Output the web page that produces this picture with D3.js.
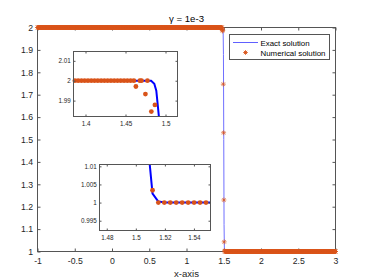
<!DOCTYPE html>
<html>
<head>
<meta charset="utf-8">
<script src="https://d3js.org/d3.v7.min.js"></script>
<style>
  body { margin: 0; background: #fff; }
  svg { font-family: "Liberation Sans", Arial, sans-serif; }
</style>
</head>
<body>
<div id="chart"></div>
<script>
// ---- data ----
var xTicks = [-1, -0.5, 0, 0.5, 1, 1.5, 2, 2.5, 3];
var yTicks = [1, 1.1, 1.2, 1.3, 1.4, 1.5, 1.6, 1.7, 1.8, 1.9, 2];

// exact solution (blue line)
var exactX = [-1, 1.482, 1.486, 1.4885, 1.492, 1.496, 1.5, 1.504, 1.5085, 1.5115, 1.5155, 1.52, 3];
var exactU = [2, 2, 1.9985, 1.995, 1.981, 1.88, 1.5, 1.12, 1.015, 1.0025, 1.0003, 1, 1];

// numerical solution: grid spacing, plateaus and the points across the shock
var gridDx = 0.0041;
var leftPlateau = { from: -1, to: 1.4605, u: 2 };
var rightPlateau = { from: 1.5155, to: 3, u: 1 };
var shockX = [1.463, 1.468, 1.470, 1.4749, 1.4774, 1.4823, 1.4868, 1.494, 1.498, 1.502, 1.506, 1.5115];
var shockU = [1.9971, 2, 2, 1.9933, 2, 1.9845, 1.9878, 1.747, 1.53, 1.23, 1.043, 1.0034];

// insets
var inset1XTicks = [1.4, 1.45, 1.5];
var inset1YTicks = [1.99, 2, 2.01];
var inset2XTicks = [1.48, 1.5, 1.52, 1.54];
var inset2YTicks = [0.995, 1, 1.005, 1.01];

var orange = "#D95319";
var axisCol = "#262626";

// build point lists
var exact = exactX.map(function(x, i) { return [x, exactU[i]]; });
var numeric = [];
d3.range(leftPlateau.to, leftPlateau.from - 1e-9, -gridDx).forEach(function(x) { numeric.push([x, leftPlateau.u]); });
shockX.forEach(function(x, i) { numeric.push([x, shockU[i]]); });
d3.range(rightPlateau.from, rightPlateau.to + 1e-9, gridDx).forEach(function(x) { numeric.push([x, rightPlateau.u]); });
numeric.push([3, 1]);

var svg = d3.select("#chart").append("svg")
  .attr("width", 374).attr("height", 280);

var fmt = function(d) { return String(+d.toFixed(4)); };

function drawAxes(g, x, y, xt, yt, fs, tick, padX, padY) {
  var x0 = x.range()[0], x1 = x.range()[1], y0 = y.range()[0], y1 = y.range()[1];
  g.append("rect")
    .attr("x", x0).attr("y", y1).attr("width", x1 - x0).attr("height", y0 - y1)
    .attr("fill", "none").attr("stroke", "#555").attr("stroke-width", 1);

  var bottom = g.append("g").attr("transform", "translate(0," + y0 + ")")
    .call(d3.axisBottom(x).tickValues(xt).tickFormat(fmt).tickSizeInner(-tick).tickSizeOuter(0).tickPadding(padX));
  var top = g.append("g").attr("transform", "translate(0," + y1 + ")")
    .call(d3.axisTop(x).tickValues(xt).tickFormat("").tickSizeInner(-tick).tickSizeOuter(0));
  var left = g.append("g").attr("transform", "translate(" + x0 + ",0)")
    .call(d3.axisLeft(y).tickValues(yt).tickFormat(fmt).tickSizeInner(-tick).tickSizeOuter(0).tickPadding(padY));
  var right = g.append("g").attr("transform", "translate(" + x1 + ",0)")
    .call(d3.axisRight(y).tickValues(yt).tickFormat("").tickSizeInner(-tick).tickSizeOuter(0));

  [bottom, top, left, right].forEach(function(a) {
    a.select(".domain").remove();
    a.selectAll("line").attr("stroke", "#555");
    a.selectAll("text").attr("fill", axisCol).style("font-size", fs + "px").style("font-family", "Liberation Sans, Arial, sans-serif");
  });
}

function starPath(r) {
  var d = r * 0.7071;
  return "M" + (-r) + ",0L" + r + ",0M0," + (-r) + "L0," + r +
         "M" + (-d) + "," + (-d) + "L" + d + "," + d + "M" + (-d) + "," + d + "L" + d + "," + (-d);
}

// ---- main axes ----
var x = d3.scaleLinear().domain([-1, 3]).range([37.5, 335.5]);
var y = d3.scaleLinear().domain([1, 2]).range([251.5, 27.5]);

var main = svg.append("g");
drawAxes(main, x, y, xTicks, yTicks, 8.7, 3, 6.5, 4.5);

main.append("path")
  .datum(exact)
  .attr("fill", "none")
  .attr("stroke", "#7070ff")
  .attr("stroke-width", 1)
  .attr("d", d3.line().x(function(d) { return x(d[0]); }).y(function(d) { return y(d[1]); }));

main.append("g").selectAll("path")
  .data(numeric)
  .enter().append("path")
  .attr("transform", function(d) { return "translate(" + x(d[0]) + "," + y(d[1]) + ")"; })
  .attr("d", starPath(2.5))
  .attr("fill", "none")
  .attr("stroke", orange)
  .attr("stroke-opacity", 0.75)
  .attr("stroke-width", 0.9);

svg.append("text")
  .attr("x", 186.5).attr("y", 22)
  .attr("text-anchor", "middle")
  .style("font-size", "9.6px")
  .attr("fill", "#000")
  .text("γ = 1e-3");

svg.append("text")
  .attr("x", 186.5).attr("y", 277)
  .attr("text-anchor", "middle")
  .style("font-size", "9.6px")
  .attr("fill", axisCol)
  .text("x-axis");

// ---- legend ----
var leg = svg.append("g");
leg.append("rect")
  .attr("x", 229.5).attr("y", 34.5).attr("width", 100).attr("height", 25)
  .attr("fill", "#fff").attr("stroke", "#555").attr("stroke-width", 1);
leg.append("line")
  .attr("x1", 233).attr("x2", 258).attr("y1", 42.5).attr("y2", 42.5)
  .attr("stroke", "#6060ff").attr("stroke-width", 1);
leg.append("path")
  .attr("transform", "translate(245.5,52.5)")
  .attr("d", starPath(2.3))
  .attr("fill", "none").attr("stroke", orange).attr("stroke-width", 0.9);
leg.append("text").attr("x", 260.5).attr("y", 45.5).style("font-size", "7.9px").attr("fill", "#000").text("Exact solution");
leg.append("text").attr("x", 260.5).attr("y", 55.5).style("font-size", "7.9px").attr("fill", "#000").text("Numerical solution");

// ---- insets ----
function drawInset(id, xd, xr, yd, yr, xt, yt, padX) {
  var xi = d3.scaleLinear().domain(xd).range(xr);
  var yi = d3.scaleLinear().domain(yd).range(yr);
  var g = svg.append("g");
  g.append("rect")
    .attr("x", xr[0]).attr("y", yr[1]).attr("width", xr[1] - xr[0]).attr("height", yr[0] - yr[1])
    .attr("fill", "#fff");
  g.append("clipPath").attr("id", id)
    .append("rect")
    .attr("x", xr[0]).attr("y", yr[1]).attr("width", xr[1] - xr[0]).attr("height", yr[0] - yr[1]);

  g.append("path")
    .datum(exact)
    .attr("clip-path", "url(#" + id + ")")
    .attr("fill", "none")
    .attr("stroke", "#0000ff")
    .attr("stroke-width", 2)
    .attr("d", d3.line().x(function(d) { return xi(d[0]); }).y(function(d) { return yi(d[1]); }));

  var inside = numeric.filter(function(d) {
    return d[0] >= xd[0] && d[0] <= xd[1] && d[1] >= yd[0] && d[1] <= yd[1];
  });
  g.append("g").selectAll("circle")
    .data(inside)
    .enter().append("circle")
    .attr("cx", function(d) { return xi(d[0]); })
    .attr("cy", function(d) { return yi(d[1]); })
    .attr("r", 2.4)
    .attr("fill", orange);

  drawAxes(g, xi, yi, xt, yt, 6.3, 2, padX, 2.8);
}

drawInset("clip1", [1.385, 1.515], [73.5, 177.5], [1.982, 2.0147], [116.5, 51.5], inset1XTicks, inset1YTicks, 5.5);
drawInset("clip2", [1.475, 1.5514], [99.5, 210.5], [0.9923, 1.0105], [230.5, 164.5], inset2XTicks, inset2YTicks, 5);
</script>
</body>
</html>
